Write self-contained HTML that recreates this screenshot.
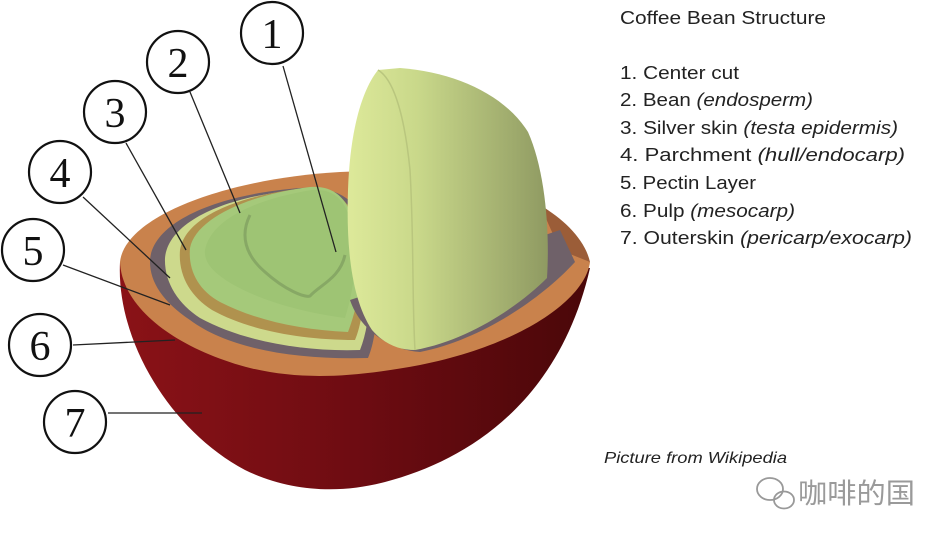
<!DOCTYPE html>
<html><head><meta charset="utf-8"><style>
html,body{margin:0;padding:0;background:#fff;width:944px;height:543px;overflow:hidden}
svg{display:block}
</style></head><body>
<svg width="944" height="543" viewBox="0 0 944 543" xmlns="http://www.w3.org/2000/svg">
<defs>
<linearGradient id="red" x1="0" x2="1" y1="0" y2="0">
<stop offset="0" stop-color="#8a1217"/><stop offset="0.5" stop-color="#6e0c12"/><stop offset="1" stop-color="#4a0709"/></linearGradient>
<linearGradient id="rb" x1="0" x2="1" y1="0" y2="0">
<stop offset="0" stop-color="#dde99a"/><stop offset="0.35" stop-color="#c9d88a"/><stop offset="1" stop-color="#8f9a62"/></linearGradient>
</defs>
<path d="M120,262 C116,340 170,430 245,470 C290,492 340,494 385,482 C470,460 560,400 590,268 Z" fill="url(#red)"/>
<path d="M120,262 C125,215 230,178 340,172 C450,166 560,200 590,262 C585,300 520,345 420,365 C350,378 300,380 250,368 C180,350 122,310 120,262 Z" fill="#c9824c"/>
<path d="M540,205 C565,220 585,240 590,262 L560,250 Z" fill="#9b5d38"/>
<path d="M150,262 C150,225 210,195 300,188 C340,186 360,200 372,240 C380,290 378,335 368,358 C300,360 230,350 190,320 C163,302 150,282 150,262 Z" fill="#6f6169"/>
<path d="M165,258 C168,222 225,196 300,190 C338,188 358,205 366,245 C372,290 370,325 360,350 C300,352 240,340 200,318 C178,304 164,282 165,258 Z" fill="#cdd98c"/>
<path d="M180,250 C185,218 235,196 305,188 C340,186 355,205 362,245 C366,285 364,318 355,340 C300,340 248,330 212,310 C190,296 178,275 180,250 Z" fill="#b0924e"/>
<path d="M190,248 C195,220 245,195 310,187 C340,185 352,205 358,240 C362,275 360,300 348,332 C300,330 255,320 220,302 C198,290 188,270 190,248 Z" fill="#a5c97a"/>
<path d="M205,250 C210,222 250,200 312,190 C338,188 350,205 354,240 C357,270 352,295 345,318 C300,312 260,300 232,284 C212,272 204,262 205,250 Z" fill="#9ec474"/>
<path d="M250,215 C240,235 245,255 265,272 C285,290 305,298 310,296 C320,285 340,278 345,255" fill="none" stroke="#87a865" stroke-width="3"/>
<path d="M350,300 C360,330 390,350 420,352 C480,340 540,300 575,262 L560,230 Z" fill="#6f6169"/>
<path d="M378,70 C362,90 350,130 348,190 C346,250 352,300 372,330 C385,345 400,350 415,350 C470,340 520,305 547,278 C550,230 545,170 528,132 C505,95 455,72 400,68 Z" fill="url(#rb)"/>
<path d="M378,70 C395,80 405,120 410,170 C414,240 412,300 415,350" fill="none" stroke="#b9c67e" stroke-width="1.5"/>
<g stroke="#222" stroke-width="1.3" fill="none">
<line x1="283" y1="66" x2="336" y2="252"/>
<line x1="190" y1="92" x2="240" y2="213"/>
<line x1="126" y1="143" x2="186" y2="250"/>
<line x1="83" y1="197" x2="170" y2="278"/>
<line x1="63" y1="265" x2="170" y2="305"/>
<line x1="73" y1="345" x2="175" y2="340"/>
<line x1="108" y1="413" x2="202" y2="413"/>
</g>
<g stroke="#111" stroke-width="2.2" fill="#fff">
<circle cx="272" cy="33" r="31"/><circle cx="178" cy="62" r="31"/><circle cx="115" cy="112" r="31"/>
<circle cx="60" cy="172" r="31"/><circle cx="33" cy="250" r="31"/><circle cx="40" cy="345" r="31"/><circle cx="75" cy="422" r="31"/>
</g>
<g font-family="Liberation Serif, serif" font-size="42" fill="#111" text-anchor="middle">
<text x="272" y="48">1</text><text x="178" y="77">2</text><text x="115" y="127">3</text>
<text x="60" y="187">4</text><text x="33" y="265">5</text><text x="40" y="360">6</text><text x="75" y="437">7</text>
</g>
<g font-family="Liberation Sans, sans-serif" font-size="18" fill="#222" lengthAdjust="spacingAndGlyphs">
<text x="620" y="24" textLength="206" lengthAdjust="spacingAndGlyphs">Coffee Bean Structure</text>
<text x="620" y="79" textLength="119" lengthAdjust="spacingAndGlyphs">1. Center cut</text>
<text x="620" y="106" textLength="193" lengthAdjust="spacingAndGlyphs">2. Bean <tspan font-style="italic">(endosperm)</tspan></text>
<text x="620" y="134" textLength="278" lengthAdjust="spacingAndGlyphs">3. Silver skin <tspan font-style="italic">(testa epidermis)</tspan></text>
<text x="620" y="161" textLength="285" lengthAdjust="spacingAndGlyphs">4. Parchment <tspan font-style="italic">(hull/endocarp)</tspan></text>
<text x="620" y="189" textLength="136" lengthAdjust="spacingAndGlyphs">5. Pectin Layer</text>
<text x="620" y="217" textLength="175" lengthAdjust="spacingAndGlyphs">6. Pulp <tspan font-style="italic">(mesocarp)</tspan></text>
<text x="620" y="244" textLength="292" lengthAdjust="spacingAndGlyphs">7. Outerskin <tspan font-style="italic">(pericarp/exocarp)</tspan></text>
<text x="604" y="463" font-size="16" font-style="italic" textLength="183" lengthAdjust="spacingAndGlyphs">Picture from Wikipedia</text>
</g>
<g fill="none" stroke="#999" stroke-width="1.8">
<ellipse cx="770" cy="489" rx="13" ry="11"/><ellipse cx="784" cy="500" rx="10" ry="8.5"/>
</g>
<text x="798" y="503" font-family="Liberation Sans, 'Noto Sans CJK SC', sans-serif" font-size="28" fill="#9a9a9a" textLength="117" lengthAdjust="spacingAndGlyphs">咖啡的国</text>
</svg>
</body></html>
